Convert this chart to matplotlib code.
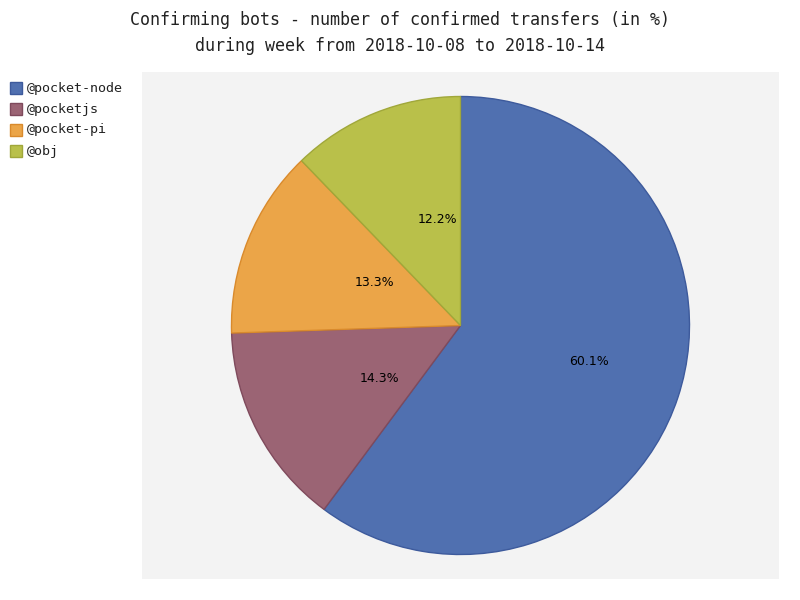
import matplotlib.pyplot as plt
from matplotlib.patches import Rectangle
import numpy as np

bots = ['@pocket-node', '@pocketjs', '@pocket-pi', '@obj']
shares = [60.1, 14.3, 13.3, 12.2]
colors = ['#5070b0', '#9b6474', '#eba548', '#b9c04a']
edges = ['#3d5a9c', '#7f4a5c', '#d98a2c', '#a0a73a']

fig = plt.figure(figsize=(8, 6), dpi=100)
ax = fig.add_axes([142/800, 21/600, 637/800, 507/600])
ax.set_facecolor('#f3f3f3')

total = sum(shares)
wedges, _, autotexts = ax.pie(shares, colors=colors, startangle=90, counterclock=False,
                              autopct=lambda p: '%.1f%%' % (p * total / 100),
                              pctdistance=0.5, radius=1,
                              wedgeprops=dict(linewidth=1),
                              textprops=dict(fontsize=9, family='DejaVu Sans'))
for w, e in zip(wedges, edges):
    w.set_edgecolor(e)
for t in autotexts:
    x, y = t.get_position()
    t.set_position((x + 0.087, y))

r = 229.0
ax.set_xlim(-637/2/r, 637/2/r)
ax.set_ylim(-507/2/r, 507/2/r)
ax.set_axis_off()
ax.add_patch(Rectangle((-637/2/r, -507/2/r), 637/r, 507/r, facecolor='#f3f3f3',
                       edgecolor='none', zorder=-10))

fig.text(0.5, 1 - 20/600, 'Confirming bots - number of confirmed transfers (in %)',
         ha='center', va='center', family='DejaVu Sans Mono', fontsize=12, color='#222222')
fig.text(0.5, 1 - 46/600, 'during week from 2018-10-08 to 2018-10-14',
         ha='center', va='center', family='DejaVu Sans Mono', fontsize=12, color='#222222')

for i, (name, c, e) in enumerate(zip(bots, colors, edges)):
    yc = 88 + 21 * i
    fig.patches.append(Rectangle((10/800, 1 - (yc + 6)/600), 12/800, 12/600,
                                 facecolor=c, edgecolor=e, linewidth=1,
                                 transform=fig.transFigure, figure=fig))
    fig.text(27/800, 1 - yc/600, name, ha='left', va='center',
             family='DejaVu Sans Mono', fontsize=9.6, color='#222222')

fig.savefig('out.png')
